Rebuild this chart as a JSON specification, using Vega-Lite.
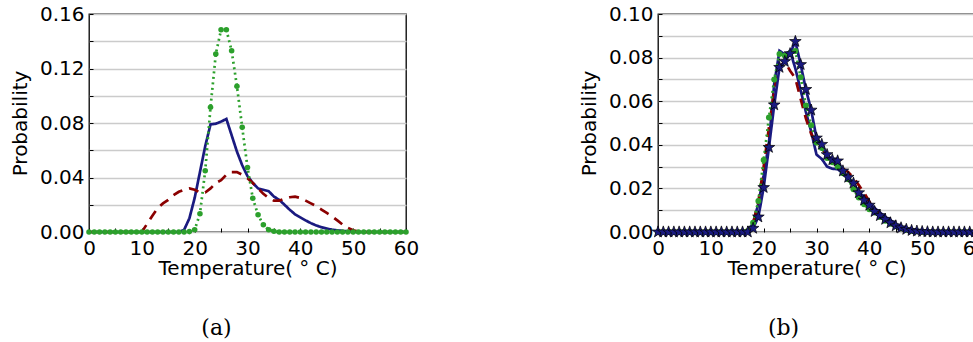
{
  "$schema": "https://vega.github.io/schema/vega-lite/v6.json",
  "padding": {"left": 9, "top": 3, "right": 5, "bottom": 2},
  "background": "white",
  "datasets": {
    "a": [
      {"T":0,"GPU":0,"CPU":0,"DIMM A":0},{"T":1,"GPU":0,"CPU":0,"DIMM A":0},{"T":2,"GPU":0,"CPU":0,"DIMM A":0},{"T":3,"GPU":0,"CPU":0,"DIMM A":0},{"T":4,"GPU":0,"CPU":0,"DIMM A":0},{"T":5,"GPU":0,"CPU":0,"DIMM A":0},{"T":6,"GPU":0,"CPU":0,"DIMM A":0},{"T":7,"GPU":0,"CPU":0,"DIMM A":0},{"T":8,"GPU":0,"CPU":0,"DIMM A":0},{"T":9,"GPU":0,"CPU":0,"DIMM A":0},
      {"T":10,"GPU":0,"CPU":0,"DIMM A":0},{"T":11,"GPU":0,"CPU":0.006,"DIMM A":0},{"T":12,"GPU":0,"CPU":0.012,"DIMM A":0},{"T":13,"GPU":0,"CPU":0.0175,"DIMM A":0},{"T":14,"GPU":0,"CPU":0.021,"DIMM A":0},{"T":15,"GPU":0,"CPU":0.0235,"DIMM A":0},{"T":16,"GPU":0,"CPU":0.027,"DIMM A":0},{"T":17,"GPU":0,"CPU":0.0295,"DIMM A":0},{"T":18,"GPU":0.0016,"CPU":0.031,"DIMM A":0},{"T":19,"GPU":0.01,"CPU":0.032,"DIMM A":0.0003},
      {"T":20,"GPU":0.025,"CPU":0.031,"DIMM A":0.0016},{"T":21,"GPU":0.044,"CPU":0.029,"DIMM A":0.0134},{"T":22,"GPU":0.063,"CPU":0.029,"DIMM A":0.045},{"T":23,"GPU":0.079,"CPU":0.032,"DIMM A":0.0915},{"T":24,"GPU":0.0795,"CPU":0.036,"DIMM A":0.1306},{"T":25,"GPU":0.081,"CPU":0.038,"DIMM A":0.1485},{"T":26,"GPU":0.083,"CPU":0.042,"DIMM A":0.1485},{"T":27,"GPU":0.071,"CPU":0.044,"DIMM A":0.133},{"T":28,"GPU":0.059,"CPU":0.044,"DIMM A":0.107},{"T":29,"GPU":0.049,"CPU":0.042,"DIMM A":0.0768},
      {"T":30,"GPU":0.041,"CPU":0.0395,"DIMM A":0.0474},{"T":31,"GPU":0.036,"CPU":0.036,"DIMM A":0.0248},{"T":32,"GPU":0.032,"CPU":0.032,"DIMM A":0.0126},{"T":33,"GPU":0.031,"CPU":0.028,"DIMM A":0.0053},{"T":34,"GPU":0.03,"CPU":0.025,"DIMM A":0.0016},{"T":35,"GPU":0.026,"CPU":0.023,"DIMM A":0.0005},{"T":36,"GPU":0.0236,"CPU":0.023,"DIMM A":0},{"T":37,"GPU":0.02,"CPU":0.0245,"DIMM A":0},{"T":38,"GPU":0.0163,"CPU":0.0255,"DIMM A":0},{"T":39,"GPU":0.013,"CPU":0.026,"DIMM A":0},
      {"T":40,"GPU":0.0107,"CPU":0.025,"DIMM A":0},{"T":41,"GPU":0.0085,"CPU":0.023,"DIMM A":0},{"T":42,"GPU":0.0065,"CPU":0.021,"DIMM A":0},{"T":43,"GPU":0.0048,"CPU":0.019,"DIMM A":0},{"T":44,"GPU":0.0035,"CPU":0.0165,"DIMM A":0},{"T":45,"GPU":0.0025,"CPU":0.014,"DIMM A":0},{"T":46,"GPU":0.0017,"CPU":0.0115,"DIMM A":0},{"T":47,"GPU":0.0012,"CPU":0.0085,"DIMM A":0},{"T":48,"GPU":0.0008,"CPU":0.0055,"DIMM A":0},{"T":49,"GPU":0.0005,"CPU":0.003,"DIMM A":0},
      {"T":50,"GPU":0.0003,"CPU":0.0013,"DIMM A":0},{"T":51,"GPU":0,"CPU":0.0003,"DIMM A":0},{"T":52,"GPU":0,"CPU":0,"DIMM A":0},{"T":53,"GPU":0,"CPU":0,"DIMM A":0},{"T":54,"GPU":0,"CPU":0,"DIMM A":0},{"T":55,"GPU":0,"CPU":0,"DIMM A":0},{"T":56,"GPU":0,"CPU":0,"DIMM A":0},{"T":57,"GPU":0,"CPU":0,"DIMM A":0},{"T":58,"GPU":0,"CPU":0,"DIMM A":0},{"T":59,"GPU":0,"CPU":0,"DIMM A":0},
      {"T":60,"GPU":0,"CPU":0,"DIMM A":0}
    ],
    "b": [
      {"T":0,"Feb":0,"Mar":0,"Apr":0,"May":0},{"T":1,"Feb":0,"Mar":0,"Apr":0,"May":0},{"T":2,"Feb":0,"Mar":0,"Apr":0,"May":0},{"T":3,"Feb":0,"Mar":0,"Apr":0,"May":0},{"T":4,"Feb":0,"Mar":0,"Apr":0,"May":0},{"T":5,"Feb":0,"Mar":0,"Apr":0,"May":0},{"T":6,"Feb":0,"Mar":0,"Apr":0,"May":0},{"T":7,"Feb":0,"Mar":0,"Apr":0,"May":0},{"T":8,"Feb":0,"Mar":0,"Apr":0,"May":0},{"T":9,"Feb":0,"Mar":0,"Apr":0,"May":0},
      {"T":10,"Feb":0,"Mar":0,"Apr":0,"May":0},{"T":11,"Feb":0,"Mar":0,"Apr":0,"May":0},{"T":12,"Feb":0,"Mar":0,"Apr":0,"May":0},{"T":13,"Feb":0,"Mar":0,"Apr":0,"May":0},{"T":14,"Feb":0,"Mar":0,"Apr":0,"May":0},{"T":15,"Feb":0,"Mar":0,"Apr":0,"May":0},{"T":16,"Feb":0,"Mar":0,"Apr":0,"May":0},{"T":17,"Feb":0.0005,"Mar":0.0003,"Apr":0.0005,"May":0},{"T":18,"Feb":0.004,"Mar":0.004,"Apr":0.0043,"May":0.0017},{"T":19,"Feb":0.013,"Mar":0.014,"Apr":0.0142,"May":0.0069},
      {"T":20,"Feb":0.026,"Mar":0.03,"Apr":0.033,"May":0.0204},{"T":21,"Feb":0.041,"Mar":0.048,"Apr":0.0525,"May":0.0388},{"T":22,"Feb":0.068,"Mar":0.065,"Apr":0.07,"May":0.0583},{"T":23,"Feb":0.0831,"Mar":0.076,"Apr":0.0816,"May":0.0755},{"T":24,"Feb":0.0815,"Mar":0.078,"Apr":0.081,"May":0.0782},{"T":25,"Feb":0.083,"Mar":0.074,"Apr":0.082,"May":0.0818},{"T":26,"Feb":0.075,"Mar":0.0705,"Apr":0.083,"May":0.0874},{"T":27,"Feb":0.065,"Mar":0.061,"Apr":0.071,"May":0.0768},{"T":28,"Feb":0.055,"Mar":0.052,"Apr":0.058,"May":0.0654},{"T":29,"Feb":0.046,"Mar":0.045,"Apr":0.049,"May":0.0559},
      {"T":30,"Feb":0.0355,"Mar":0.041,"Apr":0.041,"May":0.0431},{"T":31,"Feb":0.0335,"Mar":0.0385,"Apr":0.0385,"May":0.0402},{"T":32,"Feb":0.03,"Mar":0.035,"Apr":0.034,"May":0.0355},{"T":33,"Feb":0.029,"Mar":0.033,"Apr":0.032,"May":0.0331},{"T":34,"Feb":0.0288,"Mar":0.031,"Apr":0.03,"May":0.0326},{"T":35,"Feb":0.027,"Mar":0.029,"Apr":0.027,"May":0.028},{"T":36,"Feb":0.0245,"Mar":0.0275,"Apr":0.0242,"May":0.0251},{"T":37,"Feb":0.022,"Mar":0.025,"Apr":0.0196,"May":0.0224},{"T":38,"Feb":0.0185,"Mar":0.0215,"Apr":0.0158,"May":0.018},{"T":39,"Feb":0.016,"Mar":0.018,"Apr":0.0127,"May":0.0146},
      {"T":40,"Feb":0.0135,"Mar":0.014,"Apr":0.0104,"May":0.0123},{"T":41,"Feb":0.011,"Mar":0.0105,"Apr":0.0089,"May":0.0094},{"T":42,"Feb":0.0089,"Mar":0.0078,"Apr":0.0069,"May":0.0075},{"T":43,"Feb":0.007,"Mar":0.0057,"Apr":0.0052,"May":0.0058},{"T":44,"Feb":0.0054,"Mar":0.004,"Apr":0.0038,"May":0.0042},{"T":45,"Feb":0.0038,"Mar":0.0026,"Apr":0.0026,"May":0.0028},{"T":46,"Feb":0.0025,"Mar":0.0016,"Apr":0.0017,"May":0.0019},{"T":47,"Feb":0.0015,"Mar":0.0009,"Apr":0.001,"May":0.0012},{"T":48,"Feb":0.0009,"Mar":0.0005,"Apr":0.0006,"May":0.0007},{"T":49,"Feb":0.0005,"Mar":0.0002,"Apr":0.0003,"May":0.0004},
      {"T":50,"Feb":0.0003,"Mar":0,"Apr":0.0001,"May":0.0002},{"T":51,"Feb":0.0001,"Mar":0,"Apr":0,"May":0.0001},{"T":52,"Feb":0,"Mar":0,"Apr":0,"May":0},{"T":53,"Feb":0,"Mar":0,"Apr":0,"May":0},{"T":54,"Feb":0,"Mar":0,"Apr":0,"May":0},{"T":55,"Feb":0,"Mar":0,"Apr":0,"May":0},{"T":56,"Feb":0,"Mar":0,"Apr":0,"May":0},{"T":57,"Feb":0,"Mar":0,"Apr":0,"May":0},{"T":58,"Feb":0,"Mar":0,"Apr":0,"May":0},{"T":59,"Feb":0,"Mar":0,"Apr":0,"May":0},
      {"T":60,"Feb":0,"Mar":0,"Apr":0,"May":0}
    ]
  },
  "spacing": 158,
  "hconcat": [
    {
      "width": 317,
      "height": 218,
      "title": {"text": "(a)", "orient": "bottom", "frame": "group", "anchor": "middle", "dx": -31, "offset": 40, "font": "DejaVu Serif", "fontSize": 22, "fontWeight": "normal", "color": "black"},
      "data": {"name": "a"},
      "transform": [{"fold": ["GPU", "CPU", "DIMM A"], "as": ["series", "P"]}],
      "encoding": {
        "x": {"field": "T", "type": "quantitative", "scale": {"domain": [0, 60], "nice": false},
          "axis": {"values": [0,5,10,15,20,25,30,35,40,45,50,55,60], "labelExpr": "datum.value % 10 == 0 ? datum.label : ''", "title": "Temperature( ° C)", "tickSize": -4, "labelPadding": 10, "titlePadding": 0, "grid": false}},
        "y": {"field": "P", "type": "quantitative", "scale": {"domain": [0, 0.16], "nice": false},
          "axis": {"values": [0,0.02,0.04,0.06,0.08,0.1,0.12,0.14,0.16], "labelExpr": "round(datum.value*100) % 4 == 0 ? format(datum.value, '.2f') : ''", "title": "Probability", "tickSize": -4, "labelPadding": 9, "titlePadding": 9, "grid": true, "gridColor": "#cbcbcb", "gridWidth": 1.5}}
      },
      "layer": [
        {
          "mark": {"type": "line", "strokeWidth": 2.7},
          "encoding": {
            "stroke": {"field": "series", "type": "nominal", "scale": {"domain": ["GPU", "CPU", "DIMM A"], "range": ["#1a1a80", "#8b0000", "#2ca02c"]}, "legend": null},
            "strokeDash": {"field": "series", "type": "nominal", "scale": {"domain": ["GPU", "CPU", "DIMM A"], "range": [[1, 0], [10, 7], [2, 3.5]]}, "legend": null}
          }
        },
        {
          "transform": [{"filter": "datum.series == 'DIMM A'"}],
          "mark": {"type": "point", "filled": true, "shape": "circle", "size": 31, "opacity": 1},
          "encoding": {
            "fill": {"field": "series", "type": "nominal", "scale": {"domain": ["GPU", "CPU", "DIMM A"], "range": ["#1a1a80", "#8b0000", "#2ca02c"]}, "legend": null}
          }
        },
        {
          "transform": [{"filter": "datum.T == 0"}],
          "mark": {"type": "point", "filled": true, "opacity": 0},
          "encoding": {
            "color": {"field": "series", "type": "nominal", "scale": {"domain": ["GPU", "CPU", "DIMM A"], "range": ["#1a1a80", "#8b0000", "#2ca02c"]},
              "legend": {"title": null, "orient": "none", "legendX": 175, "legendY": 10, "symbolSize": 484, "symbolOpacity": 1, "symbolStrokeWidth": 0, "labelFontSize": 18, "labelFont": "DejaVu Sans", "labelColor": "black", "labelOffset": 23, "rowPadding": 9, "padding": 5, "strokeColor": "black", "fillColor": "white", "cornerRadius": 0}},
            "shape": {"field": "series", "type": "nominal",
              "scale": {"domain": ["GPU", "CPU", "DIMM A"], "range": [
                "M-1.75,0M-1.3,-0.12H1.3V0.12H-1.3Z",
                "M-1.75,0M-1.23,-0.13H-0.3V0.13H-1.23ZM0.3,-0.13H1.23V0.13H0.3Z",
                "M-1.75,0M-0.95,0L-1.026,0.184L-1.21,0.26L-1.394,0.184L-1.47,0L-1.394,-0.184L-1.21,-0.26L-1.026,-0.184ZM1.47,0L1.394,0.184L1.21,0.26L1.026,0.184L0.95,0L1.026,-0.184L1.21,-0.26L1.394,-0.184ZM-0.76,-0.11H-0.62V0.11H-0.76ZM-0.31,-0.11H-0.17V0.11H-0.31ZM0.15,-0.11H0.29V0.11H0.15ZM0.6,-0.11H0.74V0.11H0.6Z"
              ]},
              "legend": {"title": null, "orient": "none", "legendX": 175, "legendY": 10, "symbolSize": 484, "symbolOpacity": 1, "symbolStrokeWidth": 0, "labelFontSize": 18, "labelFont": "DejaVu Sans", "labelColor": "black", "labelOffset": 23, "rowPadding": 9, "padding": 5, "strokeColor": "black", "fillColor": "white", "cornerRadius": 0}}
          }
        }
      ]
    },
    {
      "width": 317,
      "height": 218,
      "title": {"text": "(b)", "orient": "bottom", "frame": "group", "anchor": "middle", "dx": -33, "offset": 40, "font": "DejaVu Serif", "fontSize": 22, "fontWeight": "normal", "color": "black"},
      "data": {"name": "b"},
      "transform": [{"fold": ["Feb", "Mar", "Apr", "May"], "as": ["series", "P"]}],
      "encoding": {
        "x": {"field": "T", "type": "quantitative", "scale": {"domain": [0, 60], "nice": false},
          "axis": {"values": [0,5,10,15,20,25,30,35,40,45,50,55,60], "labelExpr": "datum.value % 10 == 0 ? datum.label : ''", "title": "Temperature( ° C)", "tickSize": -4, "labelPadding": 10, "titlePadding": 0, "grid": false}},
        "y": {"field": "P", "type": "quantitative", "scale": {"domain": [0, 0.1], "nice": false},
          "axis": {"values": [0,0.01,0.02,0.03,0.04,0.05,0.06,0.07,0.08,0.09,0.1], "labelExpr": "round(datum.value*100) % 2 == 0 ? format(datum.value, '.2f') : ''", "title": "Probability", "tickSize": -4, "labelPadding": 9, "titlePadding": 9, "grid": true, "gridColor": "#cbcbcb", "gridWidth": 1.5}}
      },
      "layer": [
        {
          "mark": {"type": "line", "strokeWidth": 2.7},
          "encoding": {
            "stroke": {"field": "series", "type": "nominal", "scale": {"domain": ["Feb", "Mar", "Apr", "May"], "range": ["#1a1a80", "#8b0000", "#2ca02c", "#cc00cc"]}, "legend": null},
            "strokeDash": {"field": "series", "type": "nominal", "scale": {"domain": ["Feb", "Mar", "Apr", "May"], "range": [[1, 0], [10, 7], [2, 3.5], [2, 3.5]]}, "legend": null}
          }
        },
        {
          "transform": [{"filter": "datum.series == 'Apr'"}],
          "mark": {"type": "point", "filled": true, "shape": "circle", "size": 36, "opacity": 1},
          "encoding": {
            "fill": {"field": "series", "type": "nominal", "scale": {"domain": ["Feb", "Mar", "Apr", "May"], "range": ["#1a1a80", "#8b0000", "#2ca02c", "#cc00cc"]}, "legend": null}
          }
        },
        {
          "transform": [{"filter": "datum.series == 'May'"}],
          "mark": {"type": "point", "filled": true, "shape": "M0,-1L0.235,-0.324L0.951,-0.309L0.38,0.124L0.588,0.809L0,0.4L-0.588,0.809L-0.38,0.124L-0.951,-0.309L-0.235,-0.324Z", "size": 150, "opacity": 1, "stroke": "black", "strokeWidth": 0.7},
          "encoding": {
            "fill": {"field": "series", "type": "nominal", "scale": {"domain": ["Feb", "Mar", "Apr", "May"], "range": ["#1a1a80", "#8b0000", "#2ca02c", "#cc00cc"]}, "legend": null}
          }
        },
        {
          "transform": [{"filter": "datum.T == 0"}],
          "mark": {"type": "point", "filled": true, "opacity": 0},
          "encoding": {
            "color": {"field": "series", "type": "nominal", "scale": {"domain": ["Feb", "Mar", "Apr", "May"], "range": ["#1a1a80", "#8b0000", "#2ca02c", "#cc00cc"]},
              "legend": {"title": null, "orient": "none", "legendX": 205, "legendY": 10, "symbolSize": 484, "symbolOpacity": 1, "symbolStrokeWidth": 0, "labelFontSize": 18, "labelFont": "DejaVu Sans", "labelColor": "black", "labelOffset": 23, "rowPadding": 8.5, "padding": 5, "strokeColor": "black", "fillColor": "white", "cornerRadius": 0}},
            "shape": {"field": "series", "type": "nominal",
              "scale": {"domain": ["Feb", "Mar", "Apr", "May"], "range": [
                "M-2.03,0M-1.3,-0.12H1.3V0.12H-1.3Z",
                "M-2.03,0M-1.23,-0.13H-0.3V0.13H-1.23ZM0.3,-0.13H1.23V0.13H0.3Z",
                "M-2.03,0M-0.95,0L-1.026,0.184L-1.21,0.26L-1.394,0.184L-1.47,0L-1.394,-0.184L-1.21,-0.26L-1.026,-0.184ZM1.47,0L1.394,0.184L1.21,0.26L1.026,0.184L0.95,0L1.026,-0.184L1.21,-0.26L1.394,-0.184ZM-0.76,-0.11H-0.62V0.11H-0.76ZM-0.31,-0.11H-0.17V0.11H-0.31ZM0.15,-0.11H0.29V0.11H0.15ZM0.6,-0.11H0.74V0.11H0.6Z",
                "M-2.03,0M-1.21,-0.42L-1.11,-0.1375L-0.8105,-0.1298L-1.0483,0.0525L-0.9631,0.3398L-1.21,0.17L-1.4569,0.3398L-1.3717,0.0525L-1.6095,-0.1298L-1.3099,-0.1375ZM1.21,-0.42L1.3099,-0.1375L1.6095,-0.1298L1.3717,0.0525L1.4569,0.3398L1.21,0.17L0.9631,0.3398L1.0483,0.0525L0.8105,-0.1298L1.11,-0.1375ZM-0.76,-0.11H-0.62V0.11H-0.76ZM-0.31,-0.11H-0.17V0.11H-0.31ZM0.15,-0.11H0.29V0.11H0.15ZM0.6,-0.11H0.74V0.11H0.6Z"
              ]},
              "legend": {"title": null, "orient": "none", "legendX": 205, "legendY": 10, "symbolSize": 484, "symbolOpacity": 1, "symbolStrokeWidth": 0, "labelFontSize": 18, "labelFont": "DejaVu Sans", "labelColor": "black", "labelOffset": 23, "rowPadding": 8.5, "padding": 5, "strokeColor": "black", "fillColor": "white", "cornerRadius": 0}}
          }
        }
      ]
    }
  ],
  "config": {
    "view": {"stroke": "black", "strokeWidth": 1.3},
    "font": "DejaVu Sans",
    "axis": {"domain": false, "tickColor": "black", "tickWidth": 1, "labelColor": "black", "titleColor": "black", "labelFont": "DejaVu Sans", "titleFont": "DejaVu Sans", "labelFontSize": 20, "titleFontSize": 20, "titleFontWeight": "normal", "labelFlush": false, "labelOverlap": false},
    "legend": {"strokeWidth": 1.3}
  }
}
